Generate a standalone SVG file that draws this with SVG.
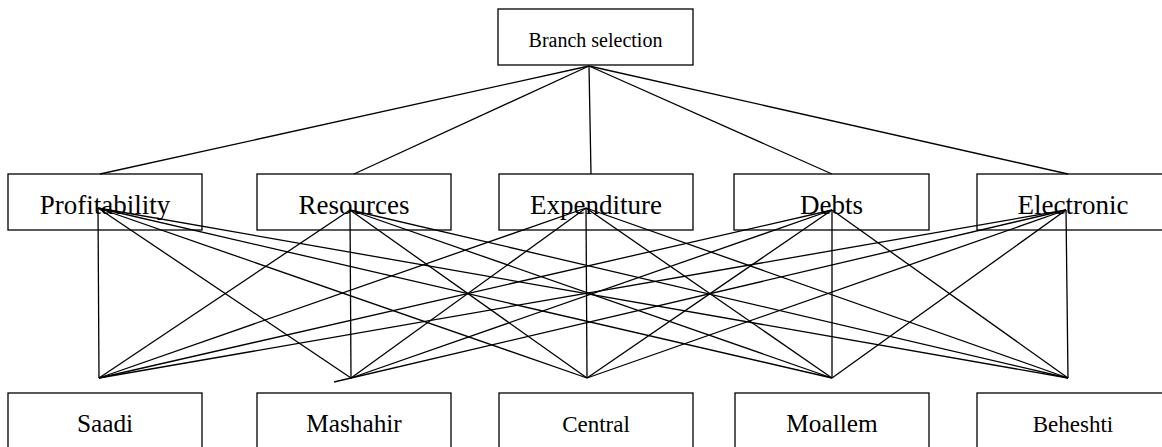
<svg xmlns="http://www.w3.org/2000/svg" width="1162" height="447" viewBox="0 0 1162 447">
<style>
.box{fill:#fff;stroke:#000;stroke-width:1.3}
.t{font-family:"Liberation Serif","Times New Roman",serif;fill:#000;text-anchor:middle}
.mid{font-size:27px}
.top{font-size:20px}
.bot{font-size:25.3px}
.bots{font-size:23px}
#connectors line{stroke:#000;stroke-width:1.3}
</style>
<rect width="1162" height="447" fill="#fff"/>
<g id="branch-selection"><rect class="box" x="498" y="9" width="195" height="56"/><text class="t top" x="595.5" y="47">Branch selection</text></g>
<g id="profitability"><rect class="box" x="8" y="174" width="194" height="56"/><text class="t mid" x="105" y="214">Profitability</text></g>
<g id="resources"><rect class="box" x="257" y="174" width="194" height="56"/><text class="t mid" x="354" y="214">Resources</text></g>
<g id="expenditure"><rect class="box" x="499" y="174" width="194" height="56"/><text class="t mid" x="596" y="214">Expenditure</text></g>
<g id="debts"><rect class="box" x="734" y="174" width="195" height="56"/><text class="t mid" x="831.5" y="214">Debts</text></g>
<g id="electronic"><rect class="box" x="977" y="174" width="193" height="56"/><text class="t mid" x="1073" y="214">Electronic</text></g>
<g id="saadi"><rect class="box" x="8" y="393" width="194" height="70"/><text class="t bot" x="105" y="432">Saadi</text></g>
<g id="mashahir"><rect class="box" x="257" y="393" width="194" height="70"/><text class="t bot" x="354" y="432">Mashahir</text></g>
<g id="central"><rect class="box" x="499" y="393" width="194" height="70"/><text class="t bots" x="596" y="432">Central</text></g>
<g id="moallem"><rect class="box" x="735" y="393" width="194" height="70"/><text class="t bot" x="832" y="432">Moallem</text></g>
<g id="beheshti"><rect class="box" x="977" y="393" width="193" height="70"/><text class="t bots" x="1073" y="432">Beheshti</text></g>
<g id="connectors">
<line x1="589" y1="66" x2="100" y2="174"/>
<line x1="589" y1="66" x2="354" y2="174"/>
<line x1="589" y1="66" x2="591" y2="174"/>
<line x1="589" y1="66" x2="832" y2="174"/>
<line x1="589" y1="66" x2="1068" y2="174"/>
<line x1="98" y1="208" x2="99" y2="378"/>
<line x1="98" y1="208" x2="351" y2="378"/>
<line x1="98" y1="208" x2="587" y2="378"/>
<line x1="98" y1="208" x2="832" y2="378"/>
<line x1="98" y1="208" x2="1068" y2="378"/>
<line x1="350" y1="210" x2="99" y2="378"/>
<line x1="350" y1="210" x2="351" y2="378"/>
<line x1="350" y1="210" x2="587" y2="378"/>
<line x1="350" y1="210" x2="832" y2="378"/>
<line x1="350" y1="210" x2="1068" y2="378"/>
<line x1="586" y1="208" x2="99" y2="378"/>
<line x1="586" y1="208" x2="351" y2="378"/>
<line x1="586" y1="208" x2="587" y2="378"/>
<line x1="586" y1="208" x2="832" y2="378"/>
<line x1="586" y1="208" x2="1068" y2="378"/>
<line x1="832" y1="210" x2="99" y2="378"/>
<line x1="832" y1="210" x2="351" y2="378"/>
<line x1="832" y1="210" x2="587" y2="378"/>
<line x1="832" y1="210" x2="832" y2="378"/>
<line x1="832" y1="210" x2="1068" y2="378"/>
<line x1="1066" y1="210" x2="99" y2="378"/>
<line x1="1066" y1="210" x2="334" y2="382"/>
<line x1="1066" y1="210" x2="587" y2="378"/>
<line x1="1066" y1="210" x2="832" y2="378"/>
<line x1="1066" y1="210" x2="1068" y2="378"/>
</g>
</svg>
